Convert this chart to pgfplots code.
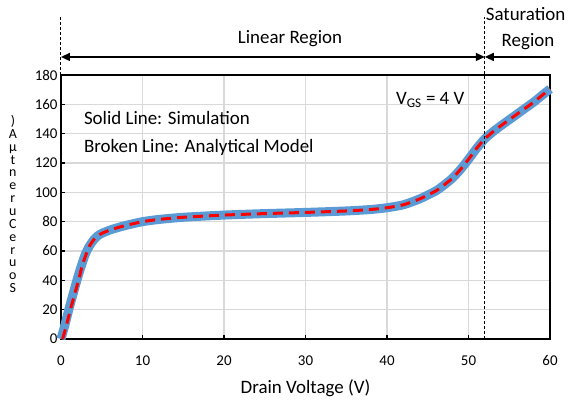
\documentclass[border=0pt]{standalone}
\usepackage{fontspec}
\setmainfont{Carlito}
\usepackage{pgfplots}
\pgfplotsset{compat=1.18}
\usetikzlibrary{arrows.meta}
\definecolor{simblue}{RGB}{91,155,213}
\definecolor{gridgray}{RGB}{217,217,217}
\begin{document}
\begin{tikzpicture}
\begin{axis}[
  scale only axis, width=489bp, height=264bp,
  xmin=0, xmax=60, ymin=0, ymax=180,
  xtick={0,10,...,60}, ytick={0,20,...,180},
  grid=major, major grid style={gridgray, line width=1.5bp},
  axis line style={black, line width=1.3bp},
  tick style={black, line width=1.3bp}, major tick length=4bp,
  tick align=inside, xtick pos=bottom, ytick pos=left,
  ticklabel style={font=\fontsize{15}{18}\selectfont},
  xticklabel style={yshift=-13bp},
  /pgf/number format/assume math mode=true,
  xlabel={Drain Voltage (V)},
  xlabel style={font=\fontsize{19}{22}\selectfont, yshift=-7bp},
  clip=false,
]
\addplot[simblue, line width=9bp, smooth, tension=0.4] coordinates {
(0,0) (0.5,10) (1,21) (1.5,31) (2,41) (2.5,50) (3,58) (3.5,63.5) (4,67.5) (4.5,70.3) (5,72) (6,74.3) (7,76) (8,77.5) (10,80) (12,81.5) (15,83) (20,84.5) (25,85.5) (30,86.3) (35,87.3) (38,88.3) (40,89.5) (42,91.5) (44,95.5) (46,101) (47,105) (48,109.5) (49,115.5) (50,122.5) (51,130) (52,136.5) (53,141.3) (54,145.5) (55,149.5) (56,153.5) (57,157.5) (58,161.5) (59,166) (60,170.5)
};
\addplot[red, line width=3bp, dash pattern=on 10bp off 6bp, smooth, tension=0.4] coordinates {
(0.2,0) (0.7,10) (1.2,21) (1.7,31) (2.2,41) (2.6,50) (3.1,58) (3.5,63.5) (4,67.5) (4.5,70.3) (5,72) (6,74.3) (7,76) (8,77.5) (10,80) (12,81.5) (15,83) (20,84.5) (25,85.5) (30,86.3) (35,87.3) (38,88.3) (40,89.5) (42,91.5) (44,95.5) (46,101) (47,105) (48,109.5) (49,115.5) (50,122.5) (51,130) (52,136.5) (53,141.3) (54,145.5) (55,149.5) (56,153.5) (57,157.5) (58,161.5) (59,166) (60,170.5)
};
\draw[black, line width=1bp, dash pattern=on 3bp off 2bp] (axis cs:0,180) -- (axis cs:0,219.5);
\draw[black, line width=1bp, dash pattern=on 3bp off 2bp] (axis cs:52,0) -- (axis cs:52,219.5);
\draw[{Triangle[length=9bp,width=8bp]}-{Triangle[length=9bp,width=8bp]}, line width=1.5bp] (axis cs:0,192.3) -- (axis cs:52,192.3);
\draw[-{Triangle[length=9bp,width=8bp]}, line width=1.5bp] (axis cs:60,192.3) -- (axis cs:52,192.3);
\node[font=\fontsize{19}{22}\selectfont] at (axis cs:28.1,204.5) {Linear Region};
\node[font=\fontsize{19}{22}\selectfont] at (axis cs:57.0,221.5) {Saturation};
\node[font=\fontsize{19}{22}\selectfont] at (axis cs:57.3,202.5) {Region};
\node[font=\fontsize{19}{22}\selectfont] at (axis cs:45.3,163) {V\textsubscript{GS} = 4 V};
\node[font=\fontsize{19}{22}\selectfont, anchor=west, inner sep=0pt] at (axis cs:2.8,150.7) {Solid Line: Simulation};
\node[font=\fontsize{19}{22}\selectfont, anchor=west, inner sep=0pt] at (axis cs:2.8,130.9) {Broken Line: Analytical Model};
\node[font=\fontsize{14}{12.9}\selectfont, align=center, inner sep=0pt] at (axis cs:-5.9,92) {)\\A\\μ\\t\\n\\e\\r\\u\\C\\e\\r\\u\\o\\S};
\path (rel axis cs:0,0) ++(-61bp,-64bp) coordinate (bl);
\path (rel axis cs:1,1) ++(32bp,75bp) coordinate (tr);
\end{axis}
\pgfresetboundingbox
\useasboundingbox (bl) rectangle (tr);
\end{tikzpicture}
\end{document}
